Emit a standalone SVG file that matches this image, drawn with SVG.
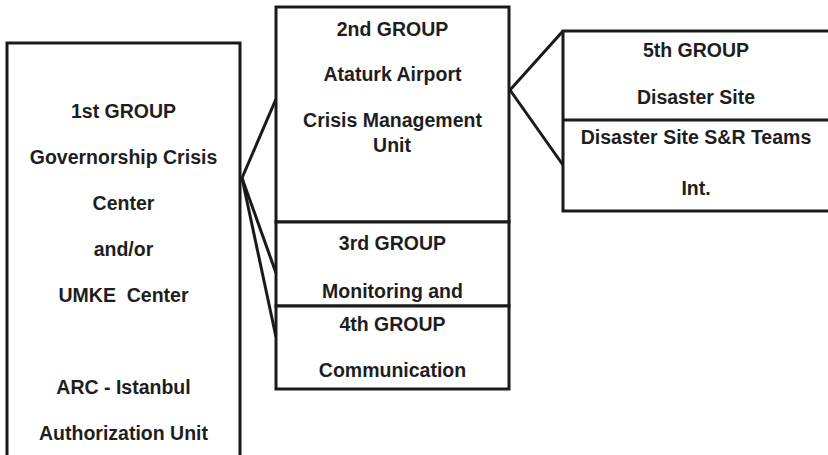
<svg xmlns="http://www.w3.org/2000/svg" width="828" height="455" viewBox="0 0 828 455">
<style>
.box{fill:#fff;stroke:#1a1a1a;stroke-width:3}
.div{stroke:#1a1a1a;stroke-width:3}
.con{stroke:#1a1a1a;stroke-width:3;fill:none}
text{font-family:"Liberation Sans",Arial,sans-serif;font-weight:bold;font-size:19.5px;fill:#1e1e1e;text-anchor:middle}
</style>
<rect width="828" height="455" fill="#fff"/>
<g id="connectors">
<line class="con" x1="242" y1="178" x2="276" y2="99"/>
<line class="con" x1="242" y1="178" x2="276" y2="273"/>
<line class="con" x1="242" y1="178" x2="276" y2="337"/>
<line class="con" x1="510" y1="90" x2="563" y2="31"/>
<line class="con" x1="510" y1="90" x2="563" y2="165"/>
</g>
<g id="group1">
<rect class="box" x="7" y="43" width="233" height="430"/>
<text x="123.5" y="117.5">1st GROUP</text>
<text x="123.5" y="163.5">Governorship Crisis</text>
<text x="123.5" y="209.5">Center</text>
<text x="123.5" y="255.5">and/or</text>
<text x="123.5" y="301.5" style="white-space:pre">UMKE  Center</text>
<text x="123.5" y="393.5">ARC - Istanbul</text>
<text x="123.5" y="439.5">Authorization Unit</text>
</g>
<g id="group2">
<rect class="box" x="276" y="7" width="233" height="215"/>
<text x="392.5" y="35.5">2nd GROUP</text>
<text x="392.5" y="81">Ataturk Airport</text>
<text x="392.5" y="127">Crisis Management</text>
<text x="392" y="152">Unit</text>
</g>
<g id="group3">
<rect class="box" x="276" y="222" width="233" height="84"/>
<text x="392.5" y="250">3rd GROUP</text>
<text x="392.5" y="297.5">Monitoring and</text>
</g>
<g id="group4">
<rect class="box" x="276" y="306" width="233" height="83"/>
<text x="392.5" y="331">4th GROUP</text>
<text x="392.5" y="377">Communication</text>
</g>
<g id="group5">
<rect class="box" x="563" y="31" width="280" height="180"/>
<line class="div" x1="563" y1="120" x2="843" y2="120"/>
<text x="696" y="57">5th GROUP</text>
<text x="696" y="104">Disaster Site</text>
<text x="696" y="144">Disaster Site S&amp;R Teams</text>
<text x="696" y="195">Int.</text>
</g>
</svg>
